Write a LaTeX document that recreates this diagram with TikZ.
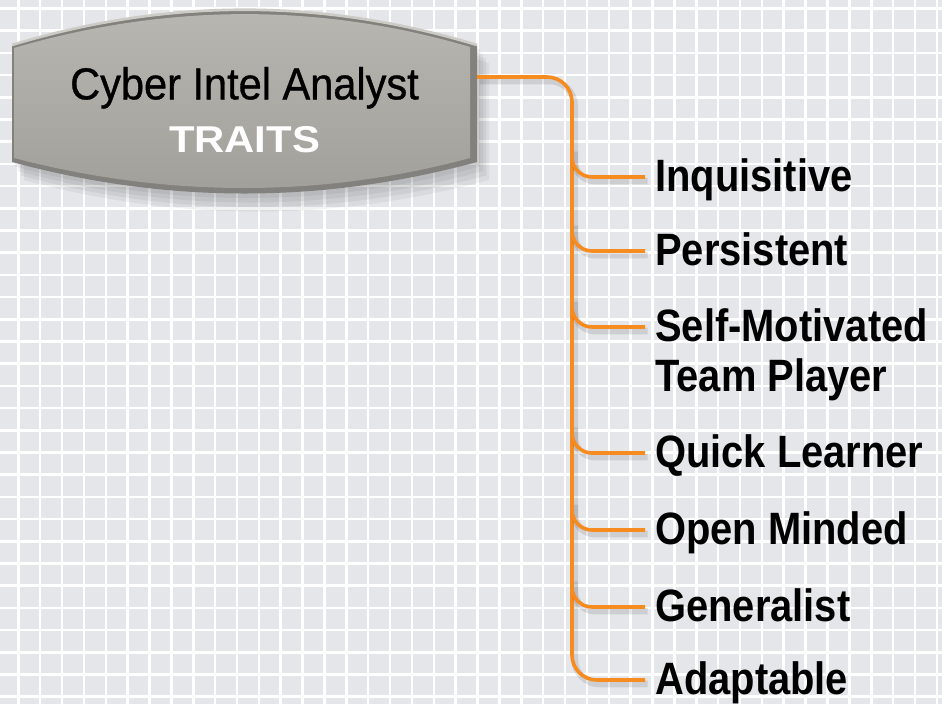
\documentclass[tikz,border=0pt]{standalone}
\usepackage{fontspec}
\usetikzlibrary{positioning}

\newfontfamily\titlefont{Liberation Sans}[FakeStretch=0.93, FakeBold=0.8]
\newfontfamily\traitsfont{Liberation Sans}[FakeStretch=1.12]
\newfontfamily\labelfont{Liberation Sans}[FakeStretch=0.88]

\definecolor{gridbg}{RGB}{229,230,234}
\definecolor{linkorange}{RGB}{246,139,31}
\definecolor{boxedge}{RGB}{130,129,125}
\definecolor{boxtop}{RGB}{184,183,178}
\definecolor{boxbot}{RGB}{160,159,154}
\definecolor{boxlight}{RGB}{204,203,198}

\newcommand\hdroutline{(12,45) .. controls (167,-2) and (322,-2) .. (477,45) -- (477,162) .. controls (322,204) and (167,204) .. (12,162) -- cycle}
\newcommand\hdrface{(14,48) .. controls (167,3) and (322,3) .. (470,47) -- (470,158) .. controls (322,198) and (167,198) .. (14,158) -- cycle}

\tikzset{
	gridline/.style={white, line width=1.9pt},
	link/.style={linkorange, line width=2.7pt, preaction={draw=black, opacity=0.1, line width=5pt, transform canvas={shift={(2pt,-3pt)}}}},
	trait/.style={anchor=west, inner xsep=7.5pt, inner ysep=0pt, text height=21pt, text depth=0pt, font=\labelfont\bfseries\fontsize{34}{40}\selectfont},
}

\begin{document}
\begin{tikzpicture}[x=0.75pt, y=-0.75pt]
			\useasboundingbox (0,0) rectangle (942,704);
			\fill[gridbg] (0,0) rectangle (942,704);
			\foreach \i in {0,...,42} \draw[gridline] ({18.3+21.87*\i},0) -- ++(0,704);
			\foreach \j in {0,...,31} \draw[gridline] (0,{8.5+22.2*\j}) -- ++(942,0);

			% header box
			\foreach \s in {3,6,9,12} \fill[black, opacity=0.05, shift={(\s,1.5*\s)}] \hdroutline;
			\fill[boxedge] \hdroutline;
			\draw[boxlight, line width=2pt] (12,45) .. controls (167,-2) and (322,-2) .. (477,45);
			\shade[top color=boxtop, bottom color=boxbot] \hdrface;
			\node[align=center, inner sep=0pt, font=\titlefont\fontsize{33.5}{40}\selectfont] (hdr) at (244.5,110) {Cyber Intel Analyst\\{\traitsfont\bfseries\fontsize{28}{40}\selectfont\color{white}TRAITS}};
			\coordinate (hdrport) at (477,77);
			\coordinate (spine) at (572,0);

			% traits
			\node[trait] (inq) at (645,177) {Inquisitive};
			\node[trait] (pers) at (645,251) {Persistent};
			\node[trait] (self) at (645,327) {Self-Motivated};
			\node[trait, below right=16.5pt and 0pt of self.south west] (team) {Team Player};
			\node[trait] (quick) at (645,453) {Quick Learner};
			\node[trait] (open) at (645,530) {Open Minded};
			\node[trait] (gen) at (645,607) {Generalist};
			\node[trait] (adapt) at (645,680) {Adaptable};

			\draw[link, rounded corners=18.75pt] (hdrport) -- (hdrport -| spine) |- (adapt.west);
			\foreach \t in {inq,pers,self,quick,open,gen} {
				\coordinate (\t-j) at (\t.west -| spine);
				\draw[link, rounded corners=15pt] (\t.west) -| ([yshift=22pt]\t-j);
			}
		\end{tikzpicture}
\end{document}
